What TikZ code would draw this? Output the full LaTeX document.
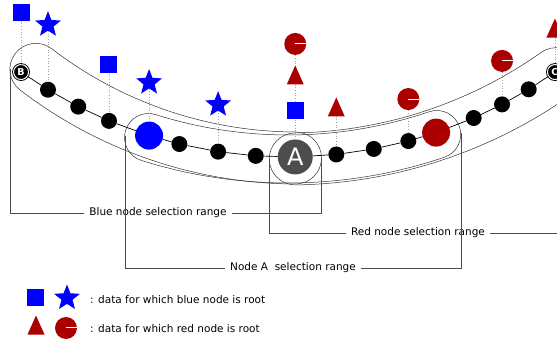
\documentclass[tikz,border=0pt]{standalone}
\usepackage{fontspec}
\setmainfont{DejaVu Sans}
\usepackage{tikz}
\usetikzlibrary{shapes.geometric, calc}

\definecolor{rootblue}{HTML}{0000FF}
\definecolor{rootred}{HTML}{AA0000}
\definecolor{nodegray}{HTML}{4D4D4D}

\tikzset{
  dot/.style = {circle, fill = black, inner sep = 0pt, minimum size = 16pt},
  bigblue/.style = {circle, fill = rootblue, inner sep = 0pt, minimum size = 28pt},
  bigred/.style = {circle, fill = rootred, inner sep = 0pt, minimum size = 28pt},
  endnode/.style = {circle, fill = black, text = white, draw = black, double = white, double distance = 1pt, line width = 0.9pt, inner sep = 0pt, minimum size = 15pt, font = \fontsize{9.5pt}{10pt}\selectfont\bfseries},
  anode/.style = {circle, fill = nodegray, text = white, inner sep = 0pt, minimum size = 35pt, font = \fontsize{24pt}{26pt}\selectfont},
  bsq/.style = {rectangle, fill = rootblue, inner sep = 0pt, minimum size = 17pt},
  bstar/.style = {star, star points = 5, star point ratio = 2.3, fill = rootblue, inner sep = 0pt, minimum size = 27pt},
  rtri/.style = {isosceles triangle, isosceles triangle stretches, shape border rotate = 90, fill = rootred, inner sep = 0pt, minimum width = 17pt, minimum height = 19pt},
  rcirc/.style = {circle, fill = rootred, inner sep = 0pt, minimum size = 22pt, path picture = {\draw[white, line width = 1pt] (path picture bounding box.center) -- (path picture bounding box.east);}},
  band/.style = {line width = 0.5pt, color = black!80},
  chainline/.style = {line width = 0.7pt, color = black},
  dotline/.style = {dotted, line width = 0.7pt, color = black!35},
  bracket/.style = {line width = 0.5pt, color = black!70},
  rangelabel/.style = {inner xsep = 5pt, inner ysep = 2pt, font = \fontsize{10.5pt}{12pt}\selectfont},
  legendtext/.style = {anchor = west, inner sep = 0pt, font = \fontsize{10.5pt}{12pt}\selectfont}
}

% band along an arc: centre, radius, half width, start angle, end angle
\newcommand{\selband}[5]{
  \pgfmathsetmacro\bandout{#2 + #3}
  \pgfmathsetmacro\bandin{#2 - #3}
  \draw[band] ([shift = {(#4:\bandout)}]#1) arc[start angle = #4, end angle = #5, radius = \bandout]
    arc[start angle = #5, end angle = #5 + 180, radius = #3]
    arc[start angle = #5, end angle = #4, radius = \bandin]
    arc[start angle = #4 + 180, end angle = #4 + 360, radius = #3] -- cycle;
}

\begin{document}
\begin{tikzpicture}[x = 1pt, y = 1pt]
  \clip (0, 0) rectangle (557, 340);
  \coordinate (O) at (288, 645);   % centre of the chain
  \coordinate (Ob) at (297, 611);  % centre of the blue band

  % selection ranges
  \selband{Ob}{429}{26}{232.5}{269.8}
  \selband{O}{464}{26}{270.9}{305.3}
  \selband{O}{464}{24}{252.5}{288.7}

  % chain
  \node[endnode] (B) at ([shift = {(234.7:462)}]O) {B};
  \node[bigblue] (bl) at ([shift = {(252.5:462)}]O) {};
  \node[anode] (A) at ([shift = {(270.9:462)}]O) {A};
  \node[bigred] (rd) at ([shift = {(288.7:462)}]O) {};
  \node[endnode] (C) at ([shift = {(305.3:462)}]O) {C};
  \foreach \ang/\nm in {238.7/d2, 243.0/d3, 247.2/d4, 256.4/d6, 261.3/d7, 266.0/d8,
                        276.0/d10, 280.7/d11, 285.1/d12, 293.7/d14, 297.6/d15, 301.4/d16}
    \node[dot] (\nm) at ([shift = {(\ang:462)}]O) {};
  \draw[chainline] (B) -- (d2) -- (d3) -- (d4) -- (bl) -- (d6) -- (d7) -- (d8) -- (A)
    -- (d10) -- (d11) -- (d12) -- (rd) -- (d14) -- (d15) -- (d16) -- (C);

  % data
  \node[bsq] (s1) at ($(B) + (0, 60)$) {};
  \node[bstar] (st1) at ($(d2) + (0, 65)$) {};
  \node[bsq] (s2) at ($(d4) + (0, 56)$) {};
  \node[bstar] (st2) at ($(bl) + (0, 53)$) {};
  \node[bstar] (st3) at ($(d7) + (0, 47)$) {};
  \node[rcirc] (rc1) at ($(A) + (0, 113)$) {};
  \node[rtri] (rt1) at ($(A) + (0, 78)$) {};
  \node[bsq] (s3) at ($(A) + (0, 46)$) {};
  \node[rtri] (rt2) at ($(d10) + (0, 43.5)$) {};
  \node[rcirc] (rc2) at ($(d12) + (0, 42)$) {};
  \node[rcirc] (rc3) at ($(d15) + (0, 43.5)$) {};
  \node[rtri] (rt3) at ($(C) + (0, 40)$) {};
  \draw[dotline] (s1) -- (B);
  \draw[dotline] (st1) -- (d2);
  \draw[dotline] (s2) -- (d4);
  \draw[dotline] (st2) -- (bl);
  \draw[dotline] (st3) -- (d7);
  \draw[dotline] (rc1) -- (rt1);
  \draw[dotline] (rt1) -- (s3);
  \draw[dotline] (s3) -- (A);
  \draw[dotline] (rt2) -- (d10);
  \draw[dotline] (rc2) -- (d12);
  \draw[dotline] (rc3) -- (d15);
  \draw[dotline] (rt3) -- (C);

  % range labels
  \coordinate (bluecapL) at (10, 271);
  \coordinate (bluecapR) at (321, 182);
  \coordinate (redcapL) at (269, 181);
  \coordinate (redcapR) at (581, 268);
  \coordinate (acapL) at (125, 204);
  \coordinate (acapR) at (461, 207);
  \node[rangelabel] (bluelbl) at (158, 127) {Blue node selection range};
  \node[rangelabel] (redlbl) at (418, 107) {Red node selection range};
  \node[rangelabel] (albl) at (293, 72) {Node A\ \ selection range};
  \draw[bracket] (bluecapL) |- (bluelbl);
  \draw[bracket] (bluelbl) -| (bluecapR);
  \draw[bracket] (redcapL) |- (redlbl);
  \draw[bracket] (redlbl) -| (redcapR);
  \draw[bracket] (acapL) |- (albl);
  \draw[bracket] (albl) -| (acapR);

  % legend
  \node[bsq] (lgsq) at (35, 42) {};
  \node[bstar] (lgstar) at (67, 42) {};
  \node[legendtext] (lgblue) at (90, 40) {: data for which blue node is root};
  \node[rtri] (lgtri) at (36, 11) {};
  \node[rcirc] (lgcirc) at (66, 12) {};
  \node[legendtext] (lgred) at (90, 11) {: data for which red node is root};
\end{tikzpicture}
\end{document}
